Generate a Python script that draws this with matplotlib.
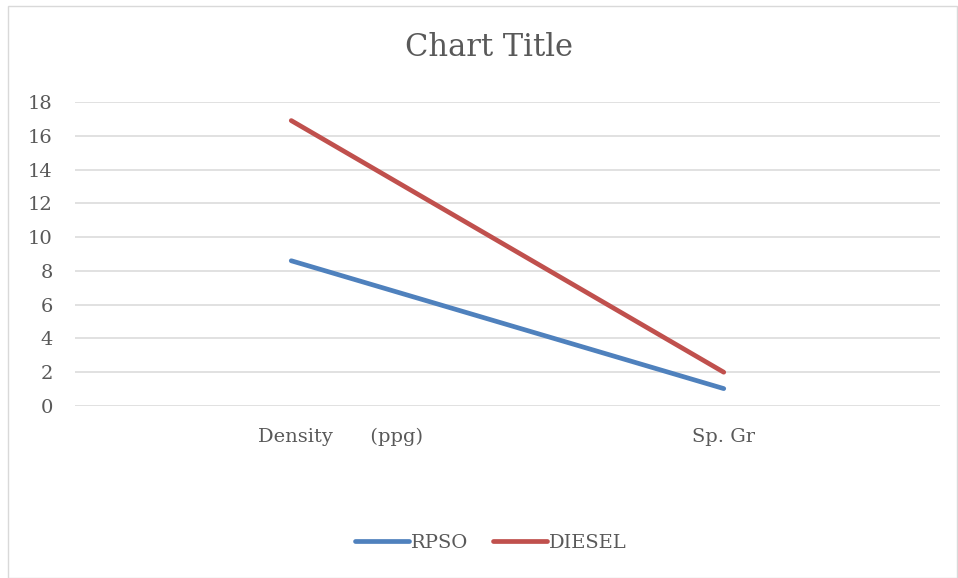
import matplotlib
matplotlib.use("Agg")
import matplotlib.pyplot as plt
import matplotlib.transforms as mtransforms
from matplotlib.patches import Rectangle

plt.rcParams["font.family"] = ["DejaVu Serif"]

categories = ["Density      (ppg)", "Sp. Gr"]
rpso = [8.6, 1.03]
diesel = [16.9, 2.0]
yticks = [0, 2, 4, 6, 8, 10, 12, 14, 16, 18]

TXT = "#595959"
GRID = "#D9D9D9"

W, H = 958, 578
fig = plt.figure(figsize=(W / 100, H / 100), dpi=100)
ax = fig.add_axes([75 / W, (H - 406) / H, (940 - 75) / W, (406 - 102) / H])

x = range(len(categories))
ax.plot(x, rpso, color="#4F81BD", lw=3.4, solid_capstyle="round", label="RPSO")
ax.plot(x, diesel, color="#C0504D", lw=3.4, solid_capstyle="round", label="DIESEL")

ax.set_xlim(-0.5, 1.5)
ax.set_ylim(0, 18)
ax.set_yticks(yticks)
ax.set_xticks(list(x))
ax.set_xticklabels(categories)
ax.tick_params(axis="both", length=0, labelsize=14, labelcolor=TXT)
ax.tick_params(axis="y", pad=16)
ax.tick_params(axis="x", pad=16)
ax.grid(axis="y", color=GRID, lw=1.1)
ax.set_axisbelow(True)
for s in ax.spines.values():
    s.set_visible(False)

# first category label sits to the right of its tick
lbl = ax.get_xticklabels()[0]
lbl.set_transform(lbl.get_transform() +
                  mtransforms.ScaledTranslation(0.49, 0, fig.dpi_scale_trans))

fig.text(489 / W, (H - 48) / H, "Chart Title", ha="center", va="center",
         fontsize=22, color=TXT)

fig.legend(loc="center", bbox_to_anchor=(491 / W, (H - 543) / H), ncol=2,
           frameon=False, fontsize=14, labelcolor=TXT, handlelength=2.75,
           handletextpad=0.1, columnspacing=1.3)

# outer chart border
fig.patches.append(Rectangle((8 / W, 0), (W - 9) / W, (H - 6) / H,
                             transform=fig.transFigure, fill=False,
                             edgecolor=GRID, lw=1))

fig.savefig("out.png", dpi=100)
